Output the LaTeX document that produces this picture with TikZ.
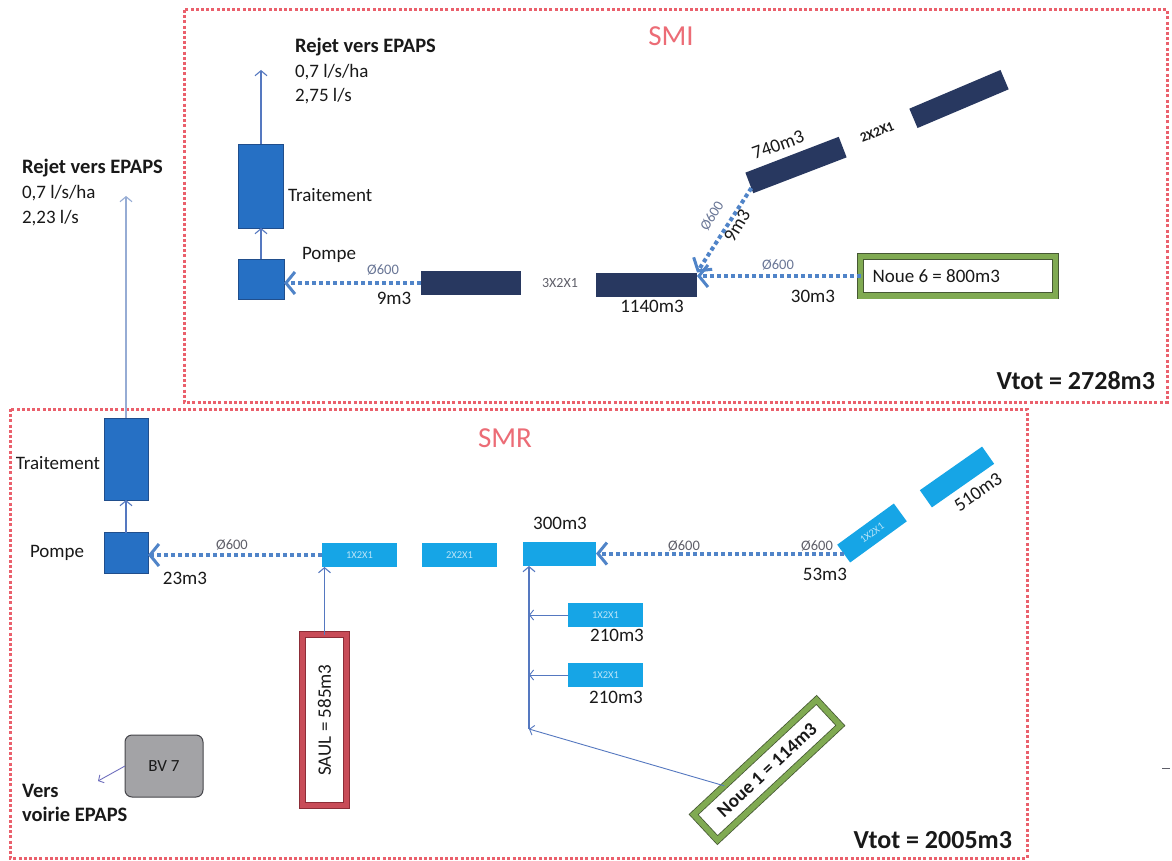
\documentclass[tikz,border=0pt]{standalone}
\usepackage{fontspec}
\setmainfont{Carlito}
\usetikzlibrary{arrows.meta,calc}
\definecolor{framered}{RGB}{234,96,108}
\definecolor{titlered}{RGB}{236,108,118}
\definecolor{tankblue}{RGB}{38,112,196}
\definecolor{tankedge}{RGB}{32,78,140}
\definecolor{navy}{RGB}{40,56,96}
\definecolor{lightblue}{RGB}{22,165,230}
\definecolor{pipeblue}{RGB}{80,132,200}
\definecolor{thinblue}{RGB}{85,120,192}
\definecolor{paleblue}{RGB}{150,172,212}
\definecolor{diamgray}{RGB}{105,118,150}
\definecolor{dimgray}{RGB}{95,95,105}
\definecolor{noueg}{RGB}{128,170,82}
\definecolor{nouedk}{RGB}{70,88,52}
\definecolor{saulred}{RGB}{200,76,88}
\definecolor{sauldk}{RGB}{140,45,55}
\definecolor{bvgray}{RGB}{163,163,166}
\definecolor{bvedge}{RGB}{70,70,75}
\definecolor{bvarrow}{RGB}{112,112,190}
\definecolor{txt}{RGB}{25,25,25}
\begin{document}
\begin{tikzpicture}[x=1pt,y=-1pt,
  every node/.style={inner sep=0pt, outer sep=0pt},
  lbl/.style={font=\fontsize{19}{23}\selectfont, text=txt},
  blbl/.style={font=\fontsize{20.5}{24}\selectfont\bfseries, text=txt},
  vtotlbl/.style={font=\fontsize{26}{30}\selectfont\bfseries, text=txt, anchor=base east},
  zonelbl/.style={font=\fontsize{29}{33}\selectfont, text=titlered},
  diamlbl/.style={font=\fontsize{14.5}{17}\selectfont, text=diamgray},
  dimlbl/.style={font=\fontsize{14}{17}\selectfont, text=dimgray},
  celltxt/.style={font=\fontsize{10.5}{12}\selectfont, text=white, text opacity=0.7},
  tankbox/.style={rectangle, draw=tankedge, line width=0.8pt, fill=tankblue},
  pipebox/.style={rectangle, fill=navy},
  cellbox/.style={rectangle, fill=lightblue},
  zoneframe/.style={draw=framered, line width=3pt, dash pattern=on 3pt off 2.2pt},
  dotarrow/.style={draw=pipeblue, line width=4pt, dash pattern=on 4pt off 3pt,
     -{Straight Barb[length=9pt,width=22pt,line width=3pt]}},
  thinarrow/.style={draw=thinblue, line width=1.1pt,
     -{Straight Barb[length=5pt,width=12pt,line width=1.1pt]}},
  palearrow/.style={draw=paleblue, line width=1.1pt,
     -{Straight Barb[length=5pt,width=12pt,line width=1.1pt]}},
  brancharrow/.style={draw=thinblue, line width=0.9pt,
     -{Straight Barb[length=4pt,width=10pt,line width=0.9pt]}},
  nouebox/.style={rectangle, draw=nouedk, line width=0.8pt, double=noueg, double distance=5.5pt, fill=white},
  saulbox/.style={rectangle, draw=sauldk, line width=0.8pt, double=saulred, double distance=5.5pt, fill=white},
]
\useasboundingbox[fill=white] (0,0) rectangle (1172,861);

% ---------------- zone frames
\draw[zoneframe] (184,10) rectangle (1167,402);
\draw[zoneframe] (10,409) rectangle (1027,858);
\node[zonelbl] (smi) at (671,36) {SMI};
\node[zonelbl] (smr) at (505,438) {SMR};

% ---------------- SMI
\node[tankbox, minimum width=45pt, minimum height=84pt] (trait1) at (261,186) {};
\node[tankbox, minimum width=46pt, minimum height=40pt] (pompe1) at (261,279) {};
\node[lbl, anchor=base west] (trait1l) at (288,201) {Traitement};
\node[lbl, anchor=base west] (pompe1l) at (302,259) {Pompe};
\coordinate (rej1) at (261,70);
\node[blbl, anchor=base west] (rej1a) at (295,53) {Rejet vers EPAPS};
\node[lbl, anchor=base west] (rej1b) at (295,78) {0,7 l/s/ha};
\node[lbl, anchor=base west] (rej1c) at (295,102) {2,75 l/s};
\draw[thinarrow] (trait1.north) -- (rej1);
\draw[thinarrow] (pompe1.north) -- (trait1.south);

\node[pipebox, minimum width=100pt, minimum height=24pt] (box1) at (471,283) {};
\node[pipebox, minimum width=101pt, minimum height=24pt] (box2) at (646.5,284.5) {};
\node[dimlbl] (d3x2) at (560,283) {3X2X1};
\node[diamlbl] (phi1) at (383,270) {Ø600};
\node[lbl] (v9a) at (394,298) {9m3};
\node[lbl] (v1140) at (652,306) {1140m3};
\draw[dotarrow] (box1.west) -- (box1.west -| pompe1.east);

\node[nouebox, inner xsep=12pt, minimum height=39.5pt,
      font=\fontsize{19}{23}\selectfont, text=txt] (noue6) at (958,276) {\makebox[171pt][l]{Noue 6 = 800m3}};
\node[diamlbl] (phi2) at (778,265) {Ø600};
\node[lbl] (v30) at (813,296) {30m3};
\draw[dotarrow] (noue6.west) -- (noue6.west -| box2.east);

\node[pipebox, minimum width=100pt, minimum height=22pt, rotate=21] (b740) at (796,165) {};
\node[pipebox, minimum width=99pt, minimum height=21pt, rotate=23] (b2x2) at (959,99) {};
\node[lbl, rotate=20] (v740) at (778,145) {740m3};
\node[font=\fontsize{13.5}{16}\selectfont\bfseries, text=txt, rotate=22] (d2x2) at (877,132) {2X2X1};
\draw[dotarrow] ($(b740.west)!0.5!(b740.south west)$) -- (box2.north east);
\node[diamlbl, rotate=59] (phi3) at (712,216) {Ø600};
\node[lbl, rotate=59] (v9b) at (737,226) {9m3};

\node[vtotlbl] (vtot1) at (1155,389) {Vtot = 2728m3};

% ---------------- SMR
\node[tankbox, minimum width=44pt, minimum height=82pt] (trait2) at (126,459) {};
\node[tankbox, minimum width=44pt, minimum height=41pt] (pompe2) at (126,553) {};
\node[lbl, anchor=base east] (trait2l) at (100,469) {Traitement};
\node[lbl, anchor=base west] (pompe2l) at (30,557) {Pompe};
\coordinate (rej2) at (126,196);
\node[blbl, anchor=base west] (rej2a) at (22,174) {Rejet vers EPAPS};
\node[lbl, anchor=base west] (rej2b) at (22,199) {0,7 l/s/ha};
\node[lbl, anchor=base west] (rej2c) at (22,223) {2,23 l/s};
\draw[palearrow] (trait2.north) -- (rej2);
\draw[thinarrow] (pompe2.north) -- (trait2.south);

\node[cellbox, minimum width=75pt, minimum height=24pt] (boxA) at (359.5,555) {};
\node[celltxt] at (boxA) {1X2X1};
\node[cellbox, minimum width=75pt, minimum height=24pt] (boxB) at (459.5,555) {};
\node[celltxt] at (boxB) {2X2X1};
\node[cellbox, minimum width=73pt, minimum height=24pt] (boxC) at (559.5,554) {};
\node[lbl] (v300) at (560,523) {300m3};
\draw[dotarrow] (boxA.west) -- (boxA.west -| pompe2.east);
\node[diamlbl, text=dimgray] (phi4) at (232,545) {Ø600};
\node[lbl] (v23) at (185,578) {23m3};

\node[cellbox, minimum width=70pt, minimum height=22pt, rotate=36] (boxD) at (872,533) {};
\node[celltxt, rotate=36] at (boxD) {1X2X1};
\node[cellbox, minimum width=76pt, minimum height=21pt, rotate=35] (boxE) at (957,477) {};
\node[lbl, rotate=35] (v510) at (978,492) {510m3};
\draw[dotarrow] (boxD.west) -- (boxD.west -| boxC.east);
\node[diamlbl, text=dimgray] (phi5) at (684,546) {Ø600};
\node[diamlbl, text=dimgray] (phi6) at (817,546) {Ø600};
\node[lbl] (v53) at (825,574) {53m3};

\node[saulbox, minimum width=44pt, minimum height=171pt] (saul) at (324.5,720) {};
\node[lbl, rotate=90] (saull) at (saul) {SAUL = 585m3};
\draw[thinarrow] (saul.north) -- (saul.north |- boxA.south);

\node[cellbox, minimum width=75pt, minimum height=24pt] (boxF) at (605.5,615) {};
\node[celltxt] at (boxF) {1X2X1};
\node[cellbox, minimum width=75pt, minimum height=24pt] (boxG) at (605.5,675) {};
\node[celltxt] at (boxG) {1X2X1};
\node[lbl] (v210a) at (617,635) {210m3};
\node[lbl] (v210b) at (616,697) {210m3};

\node[nouebox, minimum width=168pt, minimum height=35pt, rotate=43,
      font=\fontsize{19}{23}\selectfont\bfseries, text=txt] (noue1) at (767,770) {Noue 1 = 114m3};
\coordinate (trunk) at (529,729);
\draw[thinarrow] (trunk) -- (trunk |- boxC.south);
\draw[brancharrow] (boxF.west) -- (boxF.west -| trunk);
\draw[brancharrow] (boxG.west) -- (boxG.west -| trunk);
\draw[brancharrow] ($(noue1.north west)!0.5!(noue1.north)$) -- (trunk);

\node[rectangle, rounded corners=7pt, draw=bvedge, line width=1pt, fill=bvgray,
      minimum width=78pt, minimum height=62pt, font=\fontsize{17}{20}\selectfont, text=txt] (bv7) at (164,766) {BV 7};
\coordinate (voirie) at (98,781);
\draw[draw=bvarrow, line width=0.9pt, -{Straight Barb[length=4pt,width=9pt,line width=0.9pt]}] (bv7.west) -- (voirie);
\node[blbl, anchor=base west] (vers1) at (22,797) {Vers};
\node[blbl, anchor=base west] (vers2) at (22,821) {voirie EPAPS};

\node[vtotlbl] (vtot2) at (1012,848) {Vtot = 2005m3};

\draw[draw=dimgray, line width=1pt] (1162,768) -- (1170,768);
\end{tikzpicture}
\end{document}
